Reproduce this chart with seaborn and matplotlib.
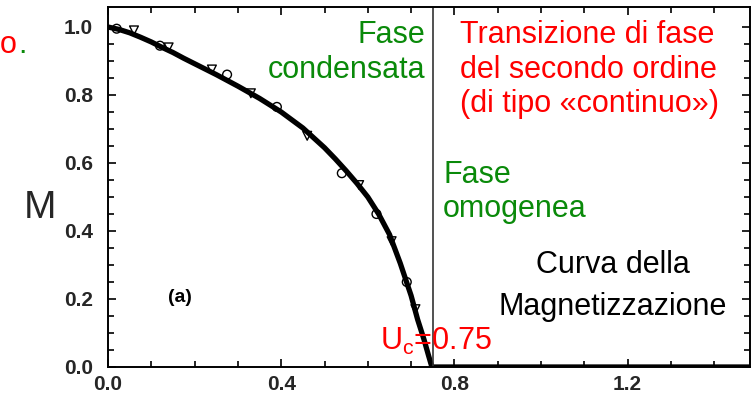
import matplotlib.pyplot as plt
import seaborn as sns
import pandas as pd

# curva di magnetizzazione
u_curve = [0.00, 0.025, 0.05, 0.075, 0.10, 0.125, 0.15, 0.175, 0.20, 0.25, 0.30,
           0.35, 0.40, 0.45, 0.50, 0.525, 0.55, 0.575, 0.60, 0.625, 0.65, 0.675,
           0.70, 0.715, 0.73, 0.74, 0.748, 1.0, 1.25, 1.48]
m_curve = [1.00, 0.993, 0.983, 0.97, 0.956, 0.94, 0.925, 0.908, 0.892, 0.86, 0.826,
           0.79, 0.75, 0.703, 0.645, 0.612, 0.577, 0.54, 0.50, 0.45, 0.39, 0.305,
           0.21, 0.14, 0.08, 0.035, 0.0, 0.0, 0.0, 0.0]

# punti sperimentali (marker aperti)
u_circ = [0.02, 0.12, 0.275, 0.39, 0.54, 0.62, 0.69]
m_circ = [0.995, 0.945, 0.86, 0.765, 0.57, 0.45, 0.25]
u_tri = [0.06, 0.14, 0.24, 0.33, 0.46, 0.58, 0.655, 0.71]
m_tri = [0.99, 0.94, 0.875, 0.805, 0.68, 0.535, 0.37, 0.17]

u_c = 0.75

sns.set_theme(style="ticks")
plt.rcParams['font.family'] = ['Liberation Sans', 'DejaVu Sans']
plt.rcParams['mathtext.fontset'] = 'custom'
plt.rcParams['mathtext.rm'] = 'Liberation Sans'

fig = plt.figure(figsize=(7.53, 3.94), dpi=100)
ax = fig.add_axes([108 / 753, 1 - 367 / 394, (750 - 108) / 753, (367 - 7) / 394])

curve = pd.DataFrame({'U': u_curve, 'M': m_curve})
sns.lineplot(x='U', y='M', data=curve, color='black', linewidth=3.8, ax=ax)
sns.scatterplot(x=u_circ, y=m_circ, marker='o', s=40, facecolor='none',
                edgecolor='black', linewidth=1, ax=ax)
sns.scatterplot(x=u_tri, y=m_tri, marker='v', s=40, facecolor='none',
                edgecolor='black', linewidth=1, ax=ax)
ax.axvline(u_c, color='#333333', linewidth=1.2)

ax.set_xlim(0, (750 - 108) / 433)
ax.set_ylim(0, (367 - 7) / 340)
ax.set_xticks([0.0, 0.4, 0.8, 1.2])
ax.set_xticks([i / 10 for i in range(15)], minor=True)
ax.set_yticks([0.0, 0.2, 0.4, 0.6, 0.8, 1.0])
ax.set_yticks([i / 20 for i in range(21)], minor=True)
ax.set_xticklabels(['0.0', '0.4', '0.8', '1.2'], fontsize=15, fontweight='bold')
ax.set_yticklabels(['0.0', '0.2', '0.4', '0.6', '0.8', '1.0'], fontsize=15, fontweight='bold')
ax.tick_params(which='both', direction='in', top=True, right=True, color='black', width=1.2)
ax.tick_params(which='major', length=6)
ax.tick_params(which='minor', length=4)
ax.tick_params(axis='y', which='major', pad=11)
ax.tick_params(axis='x', which='major', pad=6)
ax.tick_params(axis='y', which='both', labelright=False)
for sp in ax.spines.values():
    sp.set_linewidth(1.4)
    sp.set_color('black')
ax.set_xlabel('')
ax.set_ylabel('')

green = '#0a8a0a'
red = '#ff0000'
ax.text(0.732, 1.02, 'Fase\ncondensata', color=green, fontsize=22, ha='right', va='top')
ax.text(0.813, 1.02, 'Transizione di fase\ndel secondo ordine\n(di tipo «continuo»)',
        color=red, fontsize=22, ha='left', va='top')
ax.text(0.774, 0.61, 'Fase\nomogenea', color=green, fontsize=22, ha='left', va='top')
ax.text(1.166, 0.345, 'Curva della\nMagnetizzazione', color='black', fontsize=22,
        ha='center', va='top', linespacing=1.55)
ax.text(0.628, 0.05, r'U$_\mathrm{c}$=0.75', color=red, fontsize=22, ha='left', va='baseline')
ax.text(0.166, 0.203, '(a)', color='black', fontsize=14, fontweight='bold', ha='center', va='center')

fig.text(40 / 753, 1 - 208 / 394, 'M', fontsize=28, ha='center', va='center')
fig.text(0, 1 - 53 / 394, 'o', color=red, fontsize=22, ha='left', va='baseline')
fig.text(18 / 753, 1 - 53 / 394, '.', color=green, fontsize=22, ha='left', va='baseline')

fig.savefig('out.png', dpi=100)
